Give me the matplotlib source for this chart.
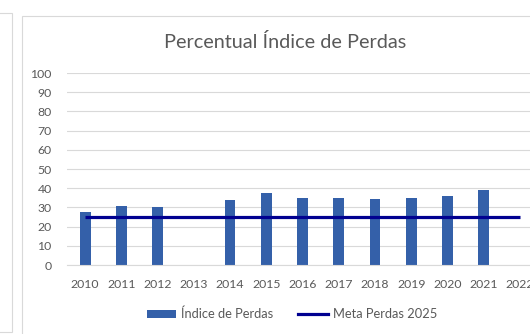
import numpy as np
import matplotlib.pyplot as plt
from matplotlib.patches import Patch, Rectangle
from matplotlib.lines import Line2D

# annual loss index (%) and the 2025 target
anos = ["2010", "2011", "2012", "2013", "2014", "2015", "2016",
        "2017", "2018", "2019", "2020", "2021", "2022"]
indice_perdas = [27.8, 30.9, 30.2, np.nan, 33.9, 37.7, 35.1,
                 35.1, 34.6, 35.1, 35.8, 38.9, np.nan]
meta_perdas = [25] * len(anos)

bar_color = "#3460A9"
line_color = "#000090"
text_color = "#595959"
grid_color = "#D9D9D9"
plt.rcParams["font.family"] = ["Lato", "DejaVu Sans"]

fig = plt.figure(figsize=(5.3, 3.34), dpi=100)

# chart frames (neighbouring chart on the left, this chart's border)
fig.patches.append(Rectangle((-0.05, 2 / 334), 0.0726, 319 / 334, transform=fig.transFigure,
                             fill=False, edgecolor="#D9D9D9", lw=0.8))
fig.patches.append(Rectangle((22 / 530, -0.05), 1.0, 318 / 334 + 0.05, transform=fig.transFigure,
                             fill=False, edgecolor="#D9D9D9", lw=0.8))

ax = fig.add_axes([67 / 530, 69 / 334, 471 / 530, 192 / 334])
x = np.arange(len(anos))
ax.bar(x, indice_perdas, width=0.3, color=bar_color, zorder=2)
ax.plot(x, meta_perdas, color=line_color, lw=2.3, solid_capstyle="butt", zorder=3)

ax.set_xlim(-0.5, len(anos) - 0.5)
ax.set_ylim(0, 100)
ax.set_yticks(np.arange(0, 101, 10))
ax.set_xticks(x)
ax.set_xticklabels(anos)
ax.grid(axis="y", color=grid_color, lw=0.8, zorder=0)
for side in ["top", "right", "left"]:
    ax.spines[side].set_visible(False)
ax.spines["bottom"].set_color(grid_color)
ax.spines["bottom"].set_linewidth(0.8)
ax.tick_params(axis="both", length=0, colors=text_color, labelsize=8.8)
ax.tick_params(axis="x", pad=10)
ax.tick_params(axis="y", pad=11)

fig.text(285 / 530, 1 - 42 / 334, "Percentual Índice de Perdas", ha="center", va="center",
         fontsize=14.3, color=text_color)

handles = [Patch(facecolor=bar_color, edgecolor="none"),
           Line2D([0], [0], color=line_color, lw=2.3)]
fig.legend(handles, ["Índice de Perdas", "Meta Perdas 2025"], loc="center",
           bbox_to_anchor=(292 / 530, 20 / 334), ncol=2, frameon=False,
           fontsize=9.3, labelcolor=text_color, handlelength=2.3, handleheight=0.55,
           handletextpad=0.4, columnspacing=1.9)

fig.savefig("out.png", dpi=100)
